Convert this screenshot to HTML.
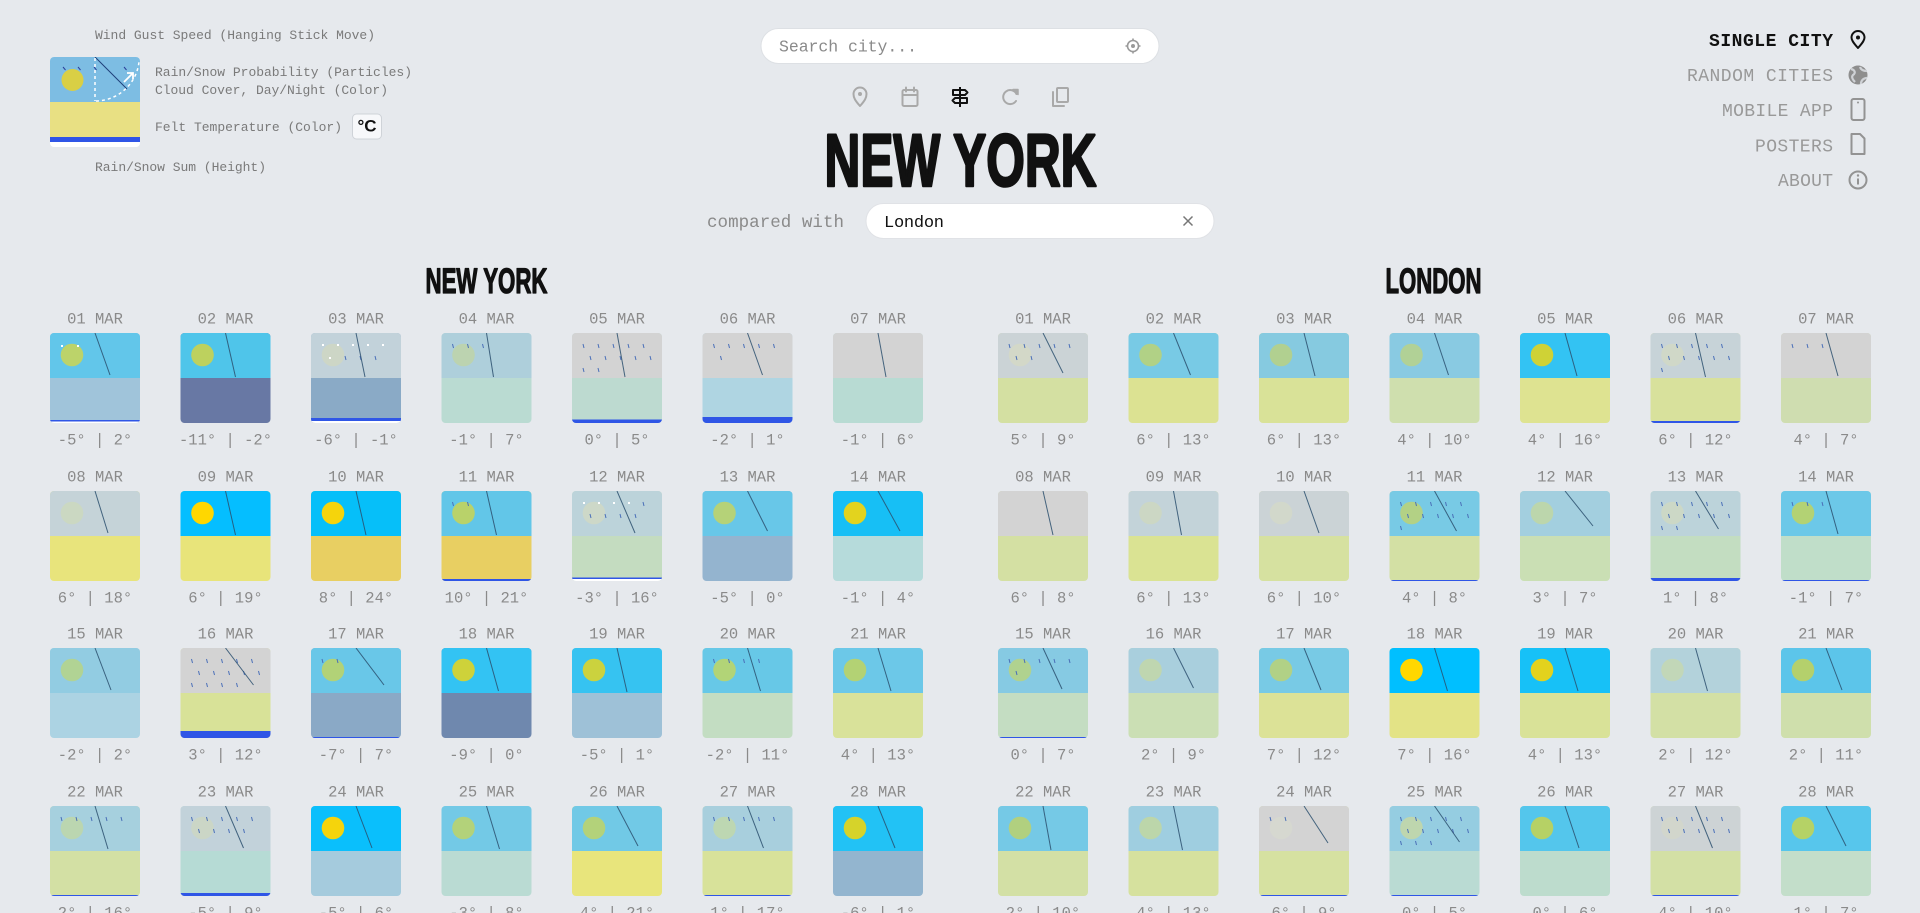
<!DOCTYPE html>
<html><head><meta charset="utf-8">
<style>
html,body{margin:0;padding:0;background:#e6e9ed;width:1920px;height:913px;overflow:hidden}
svg{display:block}
.m{font-family:"Liberation Mono",monospace}
.t{font-family:"Liberation Sans",sans-serif;font-weight:bold;fill:#111}
.lg{font-size:13px;fill:#7a7a7a}
.dl{font-size:15.5px;fill:#8a8a8a;text-anchor:middle}
.s{stroke:#2b4f6e;stroke-width:1;opacity:.85}
.r{stroke:#4a6fb8;stroke-width:1;fill:none}
.ic{fill:none;stroke:#a9a9a9;stroke-width:2;stroke-linecap:round;stroke-linejoin:round}
.ig{fill:none;stroke:#939393;stroke-width:2;stroke-linecap:round;stroke-linejoin:round}
.nv{font-size:18px;fill:#999}
</style></head><body>
<svg width="1920" height="913" viewBox="0 0 1920 913" xmlns="http://www.w3.org/2000/svg">
<defs>
<clipPath id="c"><rect width="90" height="90" rx="4"/></clipPath>
<clipPath id="lc"><rect x="50" y="57" width="90" height="90" rx="4"/></clipPath>
<path id="R1" d="M11 11l1 4M26 11l1 4M41 11l1 4M56 11l1 4M71 11l1 4"/>
<path id="R2" d="M18 23l1 4M33 23l1 4M48 23l1 4M63 23l1 4M78 23l1 4"/>
</defs>

<!-- LEGEND -->
<text class="m lg" x="95" y="39" textLength="280">Wind Gust Speed (Hanging Stick Move)</text>
<g clip-path="url(#lc)">
<rect x="50" y="57" width="90" height="90" fill="#fff"/>
<rect x="50" y="57" width="90" height="45" fill="#7dbde3"/>
<rect x="50" y="102" width="90" height="35" fill="#e8e083"/>
<rect x="50" y="137" width="90" height="5" fill="#2f55e6"/>
<circle cx="72.5" cy="80" r="11" fill="#d9cf45"/>
<path d="M63 67l2.5 3M78 67l2.5 3M94 67l2.5 3M124 67l2.5 3" stroke="#2b3f9a" stroke-width="1"/>
<line x1="95" y1="57" x2="127" y2="89" stroke="#1f3f7a" stroke-width="1"/>
<line x1="95" y1="58" x2="95" y2="101" stroke="#fff" stroke-width="1.5" stroke-dasharray="3 3"/>
<path d="M96 101 A44 44 0 0 0 139 62" fill="none" stroke="#fff" stroke-width="1.5" stroke-dasharray="3 3"/>
<path d="M124 82 L133 73 M127 73 L133 73 L133 79" fill="none" stroke="#fff" stroke-width="1.8"/>
</g>
<text class="m lg" x="155" y="76" textLength="257">Rain/Snow Probability (Particles)</text>
<text class="m lg" x="155" y="94" textLength="233">Cloud Cover, Day/Night (Color)</text>
<text class="m lg" x="155" y="131" textLength="187">Felt Temperature (Color)</text>
<rect x="352.5" y="114" width="29" height="25" rx="4" fill="#f7f8fa" stroke="#cfd3d8"/>
<text class="t" x="367" y="131.5" font-size="17" text-anchor="middle">°C</text>
<text class="m lg" x="95" y="171" textLength="171">Rain/Snow Sum (Height)</text>

<!-- SEARCH -->
<rect x="761" y="28.5" width="398" height="35" rx="17.5" fill="#fff" stroke="#dde0e4"/>
<text class="m" x="779" y="51.5" font-size="16.5" fill="#8a8a8a" textLength="138">Search city...</text>
<g fill="none" stroke="#9a9a9a" stroke-width="1.6">
<circle cx="1133" cy="46" r="5.5"/><circle cx="1133" cy="46" r="2" fill="#9a9a9a" stroke="none"/>
<path d="M1133 38.5v2M1133 51.5v2M1125.5 46h2M1138.5 46h2"/>
</g>

<!-- ICON ROW -->
<path class="ic" d="M860 106 C855 100.5 853.5 97.5 853.5 94 A6.5 6.5 0 0 1 866.5 94 C866.5 97.5 865 100.5 860 106Z"/>
<circle cx="860" cy="94" r="2" fill="#a9a9a9"/>
<rect class="ic" x="902.5" y="90" width="15" height="16" rx="1.5"/>
<path class="ic" d="M902.5 95h15M906 87.5v4M914 87.5v4"/>
<g fill="none" stroke="#111" stroke-width="2" stroke-linejoin="round">
<path d="M960 87v20"/>
<path d="M953 90h12l2.5 2.5 -2.5 2.5h-12z"/>
<path d="M967 98h-12l-2.5 2.5 2.5 2.5h12z"/>
</g>
<path class="ic" d="M1016.5 94 A7 7 0 1 0 1016 101"/>
<path d="M1013 89.5 L1018 89.5 L1018 94.5Z" fill="#a9a9a9" stroke="#a9a9a9" stroke-width="1.5" stroke-linejoin="round"/>
<rect class="ic" x="1057" y="88" width="11" height="14" rx="1"/>
<path class="ic" d="M1053 92v14h11"/>

<!-- TITLE -->
<text class="t" x="824.5" y="186" font-size="74" textLength="272" lengthAdjust="spacingAndGlyphs" stroke="#111" stroke-width="2.6" stroke-linejoin="round">NEW YORK</text>
<text class="m" x="707" y="227" font-size="17.5" fill="#8a8a8a" textLength="137">compared with</text>
<rect x="866" y="203.5" width="348" height="35" rx="17.5" fill="#fff" stroke="#e0e2e6"/>
<text class="m" x="884" y="227" font-size="17" fill="#111" textLength="60">London</text>
<path d="M1183.5 216.5l9 9M1192.5 216.5l-9 9" stroke="#777" stroke-width="1.5"/>

<!-- NAV -->
<text class="m" x="1709" y="46" font-size="18" font-weight="bold" fill="#111" textLength="124">SINGLE CITY</text>
<text class="m nv" x="1687" y="81" textLength="146">RANDOM CITIES</text>
<text class="m nv" x="1722" y="116" textLength="111">MOBILE APP</text>
<text class="m nv" x="1755" y="151.5" textLength="78">POSTERS</text>
<text class="m nv" x="1778" y="186" textLength="55">ABOUT</text>
<path d="M1858 48 C1853 42.5 1851.5 40 1851.5 37.5 A6.5 6.5 0 0 1 1864.5 37.5 C1864.5 40 1863 42.5 1858 48Z" fill="none" stroke="#111" stroke-width="2" stroke-linejoin="round"/>
<circle cx="1858" cy="37.5" r="2" fill="#111"/>
<circle cx="1858" cy="75" r="9.5" fill="#8e8e8e"/>
<path d="M1851 69 C1855 70 1856 73 1853 75 C1851 77 1853 80 1855 82 M1860 67 C1861 70 1864 71 1867 71 M1861 84 C1861 80 1864 78 1867 78" fill="none" stroke="#cfd2d6" stroke-width="2.2"/>
<rect class="ig" x="1851.5" y="99" width="13" height="21" rx="2"/>
<circle cx="1858" cy="102.5" r="1" fill="#939393"/>
<path class="ig" d="M1851.5 134h8.5l4.5 4.5V154h-13z"/>
<circle class="ig" cx="1858" cy="180" r="8.5"/>
<path d="M1858 178.5v6" stroke="#939393" stroke-width="2"/><circle cx="1858" cy="175.5" r="1.2" fill="#939393"/>

<!-- SECTION TITLES -->
<text class="t" x="425.5" y="293" font-size="35" textLength="122" lengthAdjust="spacingAndGlyphs" stroke="#111" stroke-width="1.3" stroke-linejoin="round">NEW YORK</text>
<text class="t" x="1385.5" y="293" font-size="35" textLength="96" lengthAdjust="spacingAndGlyphs" stroke="#111" stroke-width="1.3" stroke-linejoin="round">LONDON</text>

<!-- ===== NEW YORK TILES ===== -->
<!-- row 1 -->
<g transform="translate(50 333)"><g clip-path="url(#c)"><rect width="90" height="90" fill="#a0c4da"/><rect width="90" height="45" fill="#62c6ea"/><circle cx="22" cy="22" r="11.3" fill="#bcd36a"/><rect x="11" y="12" width="2" height="2" fill="#fff"/><rect x="27" y="12" width="2" height="2" fill="#fff"/><line class="s" x1="45" y1="0" x2="60" y2="42"/><rect y="87" width="90" height="1.5" fill="#2f56e6"/><rect y="88.5" width="90" height="1.5" fill="#fff"/></g></g>
<g transform="translate(180.5 333)"><g clip-path="url(#c)"><rect width="90" height="90" fill="#6878a4"/><rect width="90" height="45" fill="#4fc5ea"/><circle cx="22" cy="22" r="11.3" fill="#bdd15e"/><line class="s" x1="45" y1="0" x2="55" y2="44"/></g></g>
<g transform="translate(311 333)"><g clip-path="url(#c)"><rect width="90" height="90" fill="#8aaac6"/><rect width="90" height="45" fill="#c2d2da"/><circle cx="22" cy="22" r="11.3" fill="#cdd6c6"/><g fill="#fff"><rect x="11" y="11" width="2" height="2"/><rect x="26" y="11" width="2" height="2"/><rect x="41" y="11" width="2" height="2"/><rect x="56" y="11" width="2" height="2"/><rect x="71" y="11" width="2" height="2"/><rect x="18" y="24" width="2" height="2"/></g><path class="r" d="M34 23l1 4M49 23l1 4M64 23l1 4"/><line class="s" x1="45" y1="0" x2="54" y2="44"/><rect y="85" width="90" height="3" fill="#2f56e6"/><rect y="88" width="90" height="2" fill="#fff"/></g></g>
<g transform="translate(441.5 333)"><g clip-path="url(#c)"><rect width="90" height="90" fill="#badbd2"/><rect width="90" height="45" fill="#aecfdb"/><circle cx="22" cy="22" r="11.3" fill="#bcd3b0"/><path class="r" d="M11 11l1 4M26 11l1 4M41 11l1 4"/><line class="s" x1="45" y1="0" x2="52" y2="44"/></g></g>
<g transform="translate(572 333)"><g clip-path="url(#c)"><rect width="90" height="90" fill="#bddad0"/><rect width="90" height="45" fill="#d3d3d3"/><g class="r"><use href="#R1"/><use href="#R2"/><path d="M11 35l1 4M26 35l1 4"/></g><line class="s" x1="45" y1="0" x2="53" y2="44"/><rect y="86.5" width="90" height="3.5" fill="#2f56e6"/></g></g>
<g transform="translate(702.5 333)"><g clip-path="url(#c)"><rect width="90" height="90" fill="#afd5e2"/><rect width="90" height="45" fill="#d3d3d3"/><g class="r"><use href="#R1"/><path d="M18 23l1 4"/></g><line class="s" x1="45" y1="0" x2="60" y2="42"/><rect y="84" width="90" height="6" fill="#2f56e6"/></g></g>
<g transform="translate(833 333)"><g clip-path="url(#c)"><rect width="90" height="90" fill="#b8dbd3"/><rect width="90" height="45" fill="#d3d3d3"/><line class="s" x1="45" y1="0" x2="53" y2="44"/></g></g>
<!-- row 2 -->
<g transform="translate(50 491)"><g clip-path="url(#c)"><rect width="90" height="90" fill="#e8e47c"/><rect width="90" height="45" fill="#c5d3d8"/><circle cx="22" cy="22" r="11.3" fill="#cbd8c2"/><line class="s" x1="45" y1="0" x2="58" y2="42"/></g></g>
<g transform="translate(180.5 491)"><g clip-path="url(#c)"><rect width="90" height="90" fill="#e8e47a"/><rect width="90" height="45" fill="#05beff"/><circle cx="22" cy="22" r="11.3" fill="#ffd700"/><line class="s" x1="45" y1="0" x2="55" y2="44"/></g></g>
<g transform="translate(311 491)"><g clip-path="url(#c)"><rect width="90" height="90" fill="#e8cf62"/><rect width="90" height="45" fill="#06bff9"/><circle cx="22" cy="22" r="11.3" fill="#f5d40c"/><line class="s" x1="45" y1="0" x2="55" y2="44"/></g></g>
<g transform="translate(441.5 491)"><g clip-path="url(#c)"><rect width="90" height="90" fill="#e8cf62"/><rect width="90" height="45" fill="#62c6e8"/><circle cx="22" cy="22" r="11.3" fill="#b9d26a"/><path class="r" d="M11 11l1 4M26 11l1 4"/><line class="s" x1="45" y1="0" x2="55" y2="44"/><rect y="88" width="90" height="2" fill="#2f56e6"/></g></g>
<g transform="translate(572 491)"><g clip-path="url(#c)"><rect width="90" height="90" fill="#c4dcc0"/><rect width="90" height="45" fill="#bcd3da"/><circle cx="22" cy="22" r="11.3" fill="#cdd8c8"/><g fill="#fff"><rect x="11" y="11" width="2" height="2"/><rect x="26" y="11" width="2" height="2"/><rect x="41" y="11" width="2" height="2"/><rect x="56" y="11" width="2" height="2"/></g><path class="r" d="M71 11l1 4M18 23l1 4M33 23l1 4M48 23l1 4M63 23l1 4"/><line class="s" x1="45" y1="0" x2="63" y2="42"/><rect y="86.5" width="90" height="1.5" fill="#2f56e6"/><rect y="88" width="90" height="2" fill="#fff"/></g></g>
<g transform="translate(702.5 491)"><g clip-path="url(#c)"><rect width="90" height="90" fill="#94b4cf"/><rect width="90" height="45" fill="#68c7e8"/><circle cx="22" cy="22" r="11.3" fill="#b5d278"/><line class="s" x1="45" y1="0" x2="65" y2="40"/></g></g>
<g transform="translate(833 491)"><g clip-path="url(#c)"><rect width="90" height="90" fill="#b6dbdb"/><rect width="90" height="45" fill="#17bff5"/><circle cx="22" cy="22" r="11.3" fill="#e3d31e"/><line class="s" x1="45" y1="0" x2="67" y2="40"/></g></g>
<!-- row 3 -->
<g transform="translate(50 648)"><g clip-path="url(#c)"><rect width="90" height="90" fill="#acd3e3"/><rect width="90" height="45" fill="#92cce2"/><circle cx="22" cy="22" r="11.3" fill="#b1d394"/><line class="s" x1="45" y1="0" x2="61" y2="42"/></g></g>
<g transform="translate(180.5 648)"><g clip-path="url(#c)"><rect width="90" height="90" fill="#d8e298"/><rect width="90" height="45" fill="#d3d3d3"/><g class="r"><use href="#R1"/><use href="#R2"/><path d="M11 35l1 4M26 35l1 4M41 35l1 4M56 35l1 4"/></g><line class="s" x1="45" y1="0" x2="73" y2="37"/><rect y="83" width="90" height="7" fill="#2f56e6"/></g></g>
<g transform="translate(311 648)"><g clip-path="url(#c)"><rect width="90" height="90" fill="#8aa9c6"/><rect width="90" height="45" fill="#69c7e8"/><circle cx="22" cy="22" r="11.3" fill="#b2d277"/><path class="r" d="M11 11l1 4M26 11l1 4"/><line class="s" x1="45" y1="0" x2="73" y2="37"/><rect y="89" width="90" height="1" fill="#2f56e6"/></g></g>
<g transform="translate(441.5 648)"><g clip-path="url(#c)"><rect width="90" height="90" fill="#6f88ae"/><rect width="90" height="45" fill="#33c3f3"/><circle cx="22" cy="22" r="11.3" fill="#ced23a"/><line class="s" x1="45" y1="0" x2="57" y2="43"/></g></g>
<g transform="translate(572 648)"><g clip-path="url(#c)"><rect width="90" height="90" fill="#9ec1d7"/><rect width="90" height="45" fill="#36c3f1"/><circle cx="22" cy="22" r="11.3" fill="#cbd23e"/><line class="s" x1="45" y1="0" x2="55" y2="44"/></g></g>
<g transform="translate(702.5 648)"><g clip-path="url(#c)"><rect width="90" height="90" fill="#c3ddc2"/><rect width="90" height="45" fill="#67c8e7"/><circle cx="22" cy="22" r="11.3" fill="#b2d477"/><path class="r" d="M11 11l1 4M26 11l1 4M41 11l1 4M56 11l1 4"/><line class="s" x1="45" y1="0" x2="58" y2="43"/></g></g>
<g transform="translate(833 648)"><g clip-path="url(#c)"><rect width="90" height="90" fill="#d9e29a"/><rect width="90" height="45" fill="#6cc8e8"/><circle cx="22" cy="22" r="11.3" fill="#b3d274"/><line class="s" x1="45" y1="0" x2="58" y2="43"/></g></g>
<!-- row 4 -->
<g transform="translate(50 806)"><g clip-path="url(#c)"><rect width="90" height="90" fill="#d3e0a4"/><rect width="90" height="45" fill="#a6d0de"/><circle cx="22" cy="22" r="11.3" fill="#bbd6b0"/><use class="r" href="#R1"/><line class="s" x1="45" y1="0" x2="58" y2="43"/><rect y="89" width="90" height="1" fill="#2f56e6"/></g></g>
<g transform="translate(180.5 806)"><g clip-path="url(#c)"><rect width="90" height="90" fill="#b6dbd5"/><rect width="90" height="45" fill="#c2d2da"/><circle cx="22" cy="22" r="11.3" fill="#cbd6c6"/><g class="r"><use href="#R1"/><path d="M18 23l1 4M33 23l1 4M48 23l1 4M63 23l1 4"/></g><line class="s" x1="45" y1="0" x2="63" y2="42"/><rect y="87" width="90" height="3" fill="#2f56e6"/></g></g>
<g transform="translate(311 806)"><g clip-path="url(#c)"><rect width="90" height="90" fill="#a5cbdd"/><rect width="90" height="45" fill="#0abffc"/><circle cx="22" cy="22" r="11.3" fill="#f5d40c"/><line class="s" x1="45" y1="0" x2="61" y2="42"/></g></g>
<g transform="translate(441.5 806)"><g clip-path="url(#c)"><rect width="90" height="90" fill="#badbd3"/><rect width="90" height="45" fill="#73c9e6"/><circle cx="22" cy="22" r="11.3" fill="#b3d27a"/><line class="s" x1="45" y1="0" x2="58" y2="43"/></g></g>
<g transform="translate(572 806)"><g clip-path="url(#c)"><rect width="90" height="90" fill="#e8e57c"/><rect width="90" height="45" fill="#71c9e6"/><circle cx="22" cy="22" r="11.3" fill="#b3d27a"/><line class="s" x1="45" y1="0" x2="66" y2="40"/></g></g>
<g transform="translate(702.5 806)"><g clip-path="url(#c)"><rect width="90" height="90" fill="#d8e29a"/><rect width="90" height="45" fill="#a8cfdd"/><circle cx="22" cy="22" r="11.3" fill="#bdd7b2"/><use class="r" href="#R1"/><line class="s" x1="45" y1="0" x2="61" y2="42"/><rect y="89" width="90" height="1" fill="#2f56e6"/></g></g>
<g transform="translate(833 806)"><g clip-path="url(#c)"><rect width="90" height="90" fill="#93b5cf"/><rect width="90" height="45" fill="#22c2f5"/><circle cx="22" cy="22" r="11.3" fill="#d6d32a"/><line class="s" x1="45" y1="0" x2="62" y2="42"/></g></g>

<!-- ===== LONDON TILES ===== -->
<!-- row 1 -->
<g transform="translate(998 333)"><g clip-path="url(#c)"><rect width="90" height="90" fill="#d4e0a2"/><rect width="90" height="45" fill="#cbd3d6"/><circle cx="22" cy="22" r="11.3" fill="#d3d8c8"/><g class="r"><use href="#R1"/><path d="M18 23l1 4M33 23l1 4"/></g><line class="s" x1="45" y1="0" x2="65" y2="40"/></g></g>
<g transform="translate(1128.5 333)"><g clip-path="url(#c)"><rect width="90" height="90" fill="#dce292"/><rect width="90" height="45" fill="#78cae5"/><circle cx="22" cy="22" r="11.3" fill="#b1d186"/><line class="s" x1="45" y1="0" x2="62" y2="42"/></g></g>
<g transform="translate(1259 333)"><g clip-path="url(#c)"><rect width="90" height="90" fill="#d9e298"/><rect width="90" height="45" fill="#86cae0"/><circle cx="22" cy="22" r="11.3" fill="#b1d090"/><line class="s" x1="45" y1="0" x2="56" y2="43"/></g></g>
<g transform="translate(1389.5 333)"><g clip-path="url(#c)"><rect width="90" height="90" fill="#cfdfae"/><rect width="90" height="45" fill="#89cae2"/><circle cx="22" cy="22" r="11.3" fill="#b1d196"/><line class="s" x1="45" y1="0" x2="59" y2="42"/></g></g>
<g transform="translate(1520 333)"><g clip-path="url(#c)"><rect width="90" height="90" fill="#dee391"/><rect width="90" height="45" fill="#33c3f3"/><circle cx="22" cy="22" r="11.3" fill="#cfd236"/><line class="s" x1="45" y1="0" x2="57" y2="43"/></g></g>
<g transform="translate(1650.5 333)"><g clip-path="url(#c)"><rect width="90" height="90" fill="#d8e19c"/><rect width="90" height="45" fill="#c7d3d8"/><circle cx="22" cy="22" r="11.3" fill="#d0d8c8"/><g class="r"><use href="#R1"/><use href="#R2"/><path d="M11 35l1 4"/></g><line class="s" x1="45" y1="0" x2="55" y2="44"/><rect y="88" width="90" height="2" fill="#2f56e6"/></g></g>
<g transform="translate(1781 333)"><g clip-path="url(#c)"><rect width="90" height="90" fill="#cfddb0"/><rect width="90" height="45" fill="#d3d3d3"/><path class="r" d="M11 11l1 4M26 11l1 4M41 11l1 4"/><line class="s" x1="45" y1="0" x2="57" y2="43"/></g></g>
<!-- row 2 -->
<g transform="translate(998 491)"><g clip-path="url(#c)"><rect width="90" height="90" fill="#d4e0a3"/><rect width="90" height="45" fill="#d3d3d3"/><line class="s" x1="45" y1="0" x2="55" y2="44"/></g></g>
<g transform="translate(1128.5 491)"><g clip-path="url(#c)"><rect width="90" height="90" fill="#dae393"/><rect width="90" height="45" fill="#c3d3d9"/><circle cx="22" cy="22" r="11.3" fill="#ccd7c4"/><line class="s" x1="45" y1="0" x2="53" y2="44"/></g></g>
<g transform="translate(1259 491)"><g clip-path="url(#c)"><rect width="90" height="90" fill="#d6e1a0"/><rect width="90" height="45" fill="#cbd3d6"/><circle cx="22" cy="22" r="11.3" fill="#d2d8cb"/><line class="s" x1="45" y1="0" x2="60" y2="42"/></g></g>
<g transform="translate(1389.5 491)"><g clip-path="url(#c)"><rect width="90" height="90" fill="#d3e0a4"/><rect width="90" height="45" fill="#78cae5"/><circle cx="22" cy="22" r="11.3" fill="#b3d185"/><g class="r"><use href="#R1"/><use href="#R2"/><path d="M11 35l1 4"/></g><line class="s" x1="45" y1="0" x2="67" y2="40"/><rect y="89" width="90" height="1" fill="#2f56e6"/></g></g>
<g transform="translate(1520 491)"><g clip-path="url(#c)"><rect width="90" height="90" fill="#cadfb4"/><rect width="90" height="45" fill="#a3cfdf"/><circle cx="22" cy="22" r="11.3" fill="#bcd6ac"/><line class="s" x1="45" y1="0" x2="73" y2="35"/></g></g>
<g transform="translate(1650.5 491)"><g clip-path="url(#c)"><rect width="90" height="90" fill="#c3ddc1"/><rect width="90" height="45" fill="#bcd3da"/><circle cx="22" cy="22" r="11.3" fill="#ccd8c6"/><g class="r"><use href="#R1"/><use href="#R2"/><path d="M11 35l1 4M26 35l1 4"/></g><line class="s" x1="45" y1="0" x2="68" y2="38"/><rect y="87" width="90" height="3" fill="#2f56e6"/></g></g>
<g transform="translate(1781 491)"><g clip-path="url(#c)"><rect width="90" height="90" fill="#c0dec9"/><rect width="90" height="45" fill="#6cc8e8"/><circle cx="22" cy="22" r="11.3" fill="#b3d274"/><path class="r" d="M11 11l1 4M26 11l1 4M41 11l1 4"/><line class="s" x1="45" y1="0" x2="57" y2="43"/><rect y="89" width="90" height="1" fill="#2f56e6"/></g></g>
<!-- row 3 -->
<g transform="translate(998 648)"><g clip-path="url(#c)"><rect width="90" height="90" fill="#c4ddc2"/><rect width="90" height="45" fill="#86cae3"/><circle cx="22" cy="22" r="11.3" fill="#b0d28f"/><g class="r"><use href="#R1"/><path d="M18 23l1 4"/></g><line class="s" x1="45" y1="0" x2="64" y2="41"/><rect y="89" width="90" height="1" fill="#2f56e6"/></g></g>
<g transform="translate(1128.5 648)"><g clip-path="url(#c)"><rect width="90" height="90" fill="#cbdfb4"/><rect width="90" height="45" fill="#a9cfdd"/><circle cx="22" cy="22" r="11.3" fill="#bfd6b0"/><line class="s" x1="45" y1="0" x2="65" y2="40"/></g></g>
<g transform="translate(1259 648)"><g clip-path="url(#c)"><rect width="90" height="90" fill="#dce297"/><rect width="90" height="45" fill="#78cae5"/><circle cx="22" cy="22" r="11.3" fill="#b1d186"/><line class="s" x1="45" y1="0" x2="62" y2="42"/></g></g>
<g transform="translate(1389.5 648)"><g clip-path="url(#c)"><rect width="90" height="90" fill="#e3e386"/><rect width="90" height="45" fill="#00bfff"/><circle cx="22" cy="22" r="11.3" fill="#ffd700"/><line class="s" x1="45" y1="0" x2="58" y2="43"/></g></g>
<g transform="translate(1520 648)"><g clip-path="url(#c)"><rect width="90" height="90" fill="#d9e298"/><rect width="90" height="45" fill="#17c1f7"/><circle cx="22" cy="22" r="11.3" fill="#e3d21d"/><line class="s" x1="45" y1="0" x2="58" y2="43"/></g></g>
<g transform="translate(1650.5 648)"><g clip-path="url(#c)"><rect width="90" height="90" fill="#d3e0a5"/><rect width="90" height="45" fill="#b3d2db"/><circle cx="22" cy="22" r="11.3" fill="#c2d7b8"/><line class="s" x1="45" y1="0" x2="57" y2="43"/></g></g>
<g transform="translate(1781 648)"><g clip-path="url(#c)"><rect width="90" height="90" fill="#cfdfac"/><rect width="90" height="45" fill="#5cc5ea"/><circle cx="22" cy="22" r="11.3" fill="#b4d06c"/><line class="s" x1="45" y1="0" x2="61" y2="42"/></g></g>
<!-- row 4 -->
<g transform="translate(998 806)"><g clip-path="url(#c)"><rect width="90" height="90" fill="#d3e0a5"/><rect width="90" height="45" fill="#75c9e6"/><circle cx="22" cy="22" r="11.3" fill="#b1d07f"/><line class="s" x1="45" y1="0" x2="53" y2="44"/></g></g>
<g transform="translate(1128.5 806)"><g clip-path="url(#c)"><rect width="90" height="90" fill="#d6e19e"/><rect width="90" height="45" fill="#9fcee0"/><circle cx="22" cy="22" r="11.3" fill="#bcd6aa"/><line class="s" x1="45" y1="0" x2="54" y2="44"/></g></g>
<g transform="translate(1259 806)"><g clip-path="url(#c)"><rect width="90" height="90" fill="#d6e1a1"/><rect width="90" height="45" fill="#d3d3d3"/><circle cx="22" cy="22" r="11.3" fill="#d6d8d0"/><path class="r" d="M11 11l1 4M26 11l1 4"/><line class="s" x1="45" y1="0" x2="69" y2="37"/><rect y="89" width="90" height="1" fill="#2f56e6"/></g></g>
<g transform="translate(1389.5 806)"><g clip-path="url(#c)"><rect width="90" height="90" fill="#badbd3"/><rect width="90" height="45" fill="#95cde1"/><circle cx="22" cy="22" r="11.3" fill="#bed6ae"/><g class="r"><use href="#R1"/><use href="#R2"/><path d="M11 35l1 4M26 35l1 4M41 35l1 4"/></g><line class="s" x1="45" y1="0" x2="70" y2="36"/><rect y="89" width="90" height="1" fill="#2f56e6"/></g></g>
<g transform="translate(1520 806)"><g clip-path="url(#c)"><rect width="90" height="90" fill="#bddccd"/><rect width="90" height="45" fill="#54c6ec"/><circle cx="22" cy="22" r="11.3" fill="#b6d165"/><line class="s" x1="45" y1="0" x2="59" y2="42"/></g></g>
<g transform="translate(1650.5 806)"><g clip-path="url(#c)"><rect width="90" height="90" fill="#d3e0a5"/><rect width="90" height="45" fill="#cdd3d5"/><circle cx="22" cy="22" r="11.3" fill="#d2d6cc"/><g class="r"><use href="#R1"/><use href="#R2"/></g><line class="s" x1="45" y1="0" x2="62" y2="42"/><rect y="89" width="90" height="1" fill="#2f56e6"/></g></g>
<g transform="translate(1781 806)"><g clip-path="url(#c)"><rect width="90" height="90" fill="#c3deca"/><rect width="90" height="45" fill="#57c6ec"/><circle cx="22" cy="22" r="11.3" fill="#b5d266"/><line class="s" x1="45" y1="0" x2="65" y2="40"/></g></g>

<!-- ===== LABELS ===== -->
<g class="m dl">
<text x="95" y="323.5">01 MAR</text><text x="225.5" y="323.5">02 MAR</text><text x="356" y="323.5">03 MAR</text><text x="486.5" y="323.5">04 MAR</text><text x="617" y="323.5">05 MAR</text><text x="747.5" y="323.5">06 MAR</text><text x="878" y="323.5">07 MAR</text>
<text x="95" y="444.5">-5° | 2°</text><text x="225.5" y="444.5">-11° | -2°</text><text x="356" y="444.5">-6° | -1°</text><text x="486.5" y="444.5">-1° | 7°</text><text x="617" y="444.5">0° | 5°</text><text x="747.5" y="444.5">-2° | 1°</text><text x="878" y="444.5">-1° | 6°</text>
<text x="95" y="481.5">08 MAR</text><text x="225.5" y="481.5">09 MAR</text><text x="356" y="481.5">10 MAR</text><text x="486.5" y="481.5">11 MAR</text><text x="617" y="481.5">12 MAR</text><text x="747.5" y="481.5">13 MAR</text><text x="878" y="481.5">14 MAR</text>
<text x="95" y="602.5">6° | 18°</text><text x="225.5" y="602.5">6° | 19°</text><text x="356" y="602.5">8° | 24°</text><text x="486.5" y="602.5">10° | 21°</text><text x="617" y="602.5">-3° | 16°</text><text x="747.5" y="602.5">-5° | 0°</text><text x="878" y="602.5">-1° | 4°</text>
<text x="95" y="638.5">15 MAR</text><text x="225.5" y="638.5">16 MAR</text><text x="356" y="638.5">17 MAR</text><text x="486.5" y="638.5">18 MAR</text><text x="617" y="638.5">19 MAR</text><text x="747.5" y="638.5">20 MAR</text><text x="878" y="638.5">21 MAR</text>
<text x="95" y="759.5">-2° | 2°</text><text x="225.5" y="759.5">3° | 12°</text><text x="356" y="759.5">-7° | 7°</text><text x="486.5" y="759.5">-9° | 0°</text><text x="617" y="759.5">-5° | 1°</text><text x="747.5" y="759.5">-2° | 11°</text><text x="878" y="759.5">4° | 13°</text>
<text x="95" y="796.5">22 MAR</text><text x="225.5" y="796.5">23 MAR</text><text x="356" y="796.5">24 MAR</text><text x="486.5" y="796.5">25 MAR</text><text x="617" y="796.5">26 MAR</text><text x="747.5" y="796.5">27 MAR</text><text x="878" y="796.5">28 MAR</text>
<text x="95" y="917.5">2° | 16°</text><text x="225.5" y="917.5">-5° | 9°</text><text x="356" y="917.5">-5° | 6°</text><text x="486.5" y="917.5">-3° | 8°</text><text x="617" y="917.5">4° | 21°</text><text x="747.5" y="917.5">1° | 17°</text><text x="878" y="917.5">-6° | 1°</text>
<text x="1043" y="323.5">01 MAR</text><text x="1173.5" y="323.5">02 MAR</text><text x="1304" y="323.5">03 MAR</text><text x="1434.5" y="323.5">04 MAR</text><text x="1565" y="323.5">05 MAR</text><text x="1695.5" y="323.5">06 MAR</text><text x="1826" y="323.5">07 MAR</text>
<text x="1043" y="444.5">5° | 9°</text><text x="1173.5" y="444.5">6° | 13°</text><text x="1304" y="444.5">6° | 13°</text><text x="1434.5" y="444.5">4° | 10°</text><text x="1565" y="444.5">4° | 16°</text><text x="1695.5" y="444.5">6° | 12°</text><text x="1826" y="444.5">4° | 7°</text>
<text x="1043" y="481.5">08 MAR</text><text x="1173.5" y="481.5">09 MAR</text><text x="1304" y="481.5">10 MAR</text><text x="1434.5" y="481.5">11 MAR</text><text x="1565" y="481.5">12 MAR</text><text x="1695.5" y="481.5">13 MAR</text><text x="1826" y="481.5">14 MAR</text>
<text x="1043" y="602.5">6° | 8°</text><text x="1173.5" y="602.5">6° | 13°</text><text x="1304" y="602.5">6° | 10°</text><text x="1434.5" y="602.5">4° | 8°</text><text x="1565" y="602.5">3° | 7°</text><text x="1695.5" y="602.5">1° | 8°</text><text x="1826" y="602.5">-1° | 7°</text>
<text x="1043" y="638.5">15 MAR</text><text x="1173.5" y="638.5">16 MAR</text><text x="1304" y="638.5">17 MAR</text><text x="1434.5" y="638.5">18 MAR</text><text x="1565" y="638.5">19 MAR</text><text x="1695.5" y="638.5">20 MAR</text><text x="1826" y="638.5">21 MAR</text>
<text x="1043" y="759.5">0° | 7°</text><text x="1173.5" y="759.5">2° | 9°</text><text x="1304" y="759.5">7° | 12°</text><text x="1434.5" y="759.5">7° | 16°</text><text x="1565" y="759.5">4° | 13°</text><text x="1695.5" y="759.5">2° | 12°</text><text x="1826" y="759.5">2° | 11°</text>
<text x="1043" y="796.5">22 MAR</text><text x="1173.5" y="796.5">23 MAR</text><text x="1304" y="796.5">24 MAR</text><text x="1434.5" y="796.5">25 MAR</text><text x="1565" y="796.5">26 MAR</text><text x="1695.5" y="796.5">27 MAR</text><text x="1826" y="796.5">28 MAR</text>
<text x="1043" y="917.5">2° | 10°</text><text x="1173.5" y="917.5">4° | 13°</text><text x="1304" y="917.5">6° | 9°</text><text x="1434.5" y="917.5">0° | 5°</text><text x="1565" y="917.5">0° | 6°</text><text x="1695.5" y="917.5">4° | 10°</text><text x="1826" y="917.5">1° | 7°</text>
</g>
</svg>
</body></html>
